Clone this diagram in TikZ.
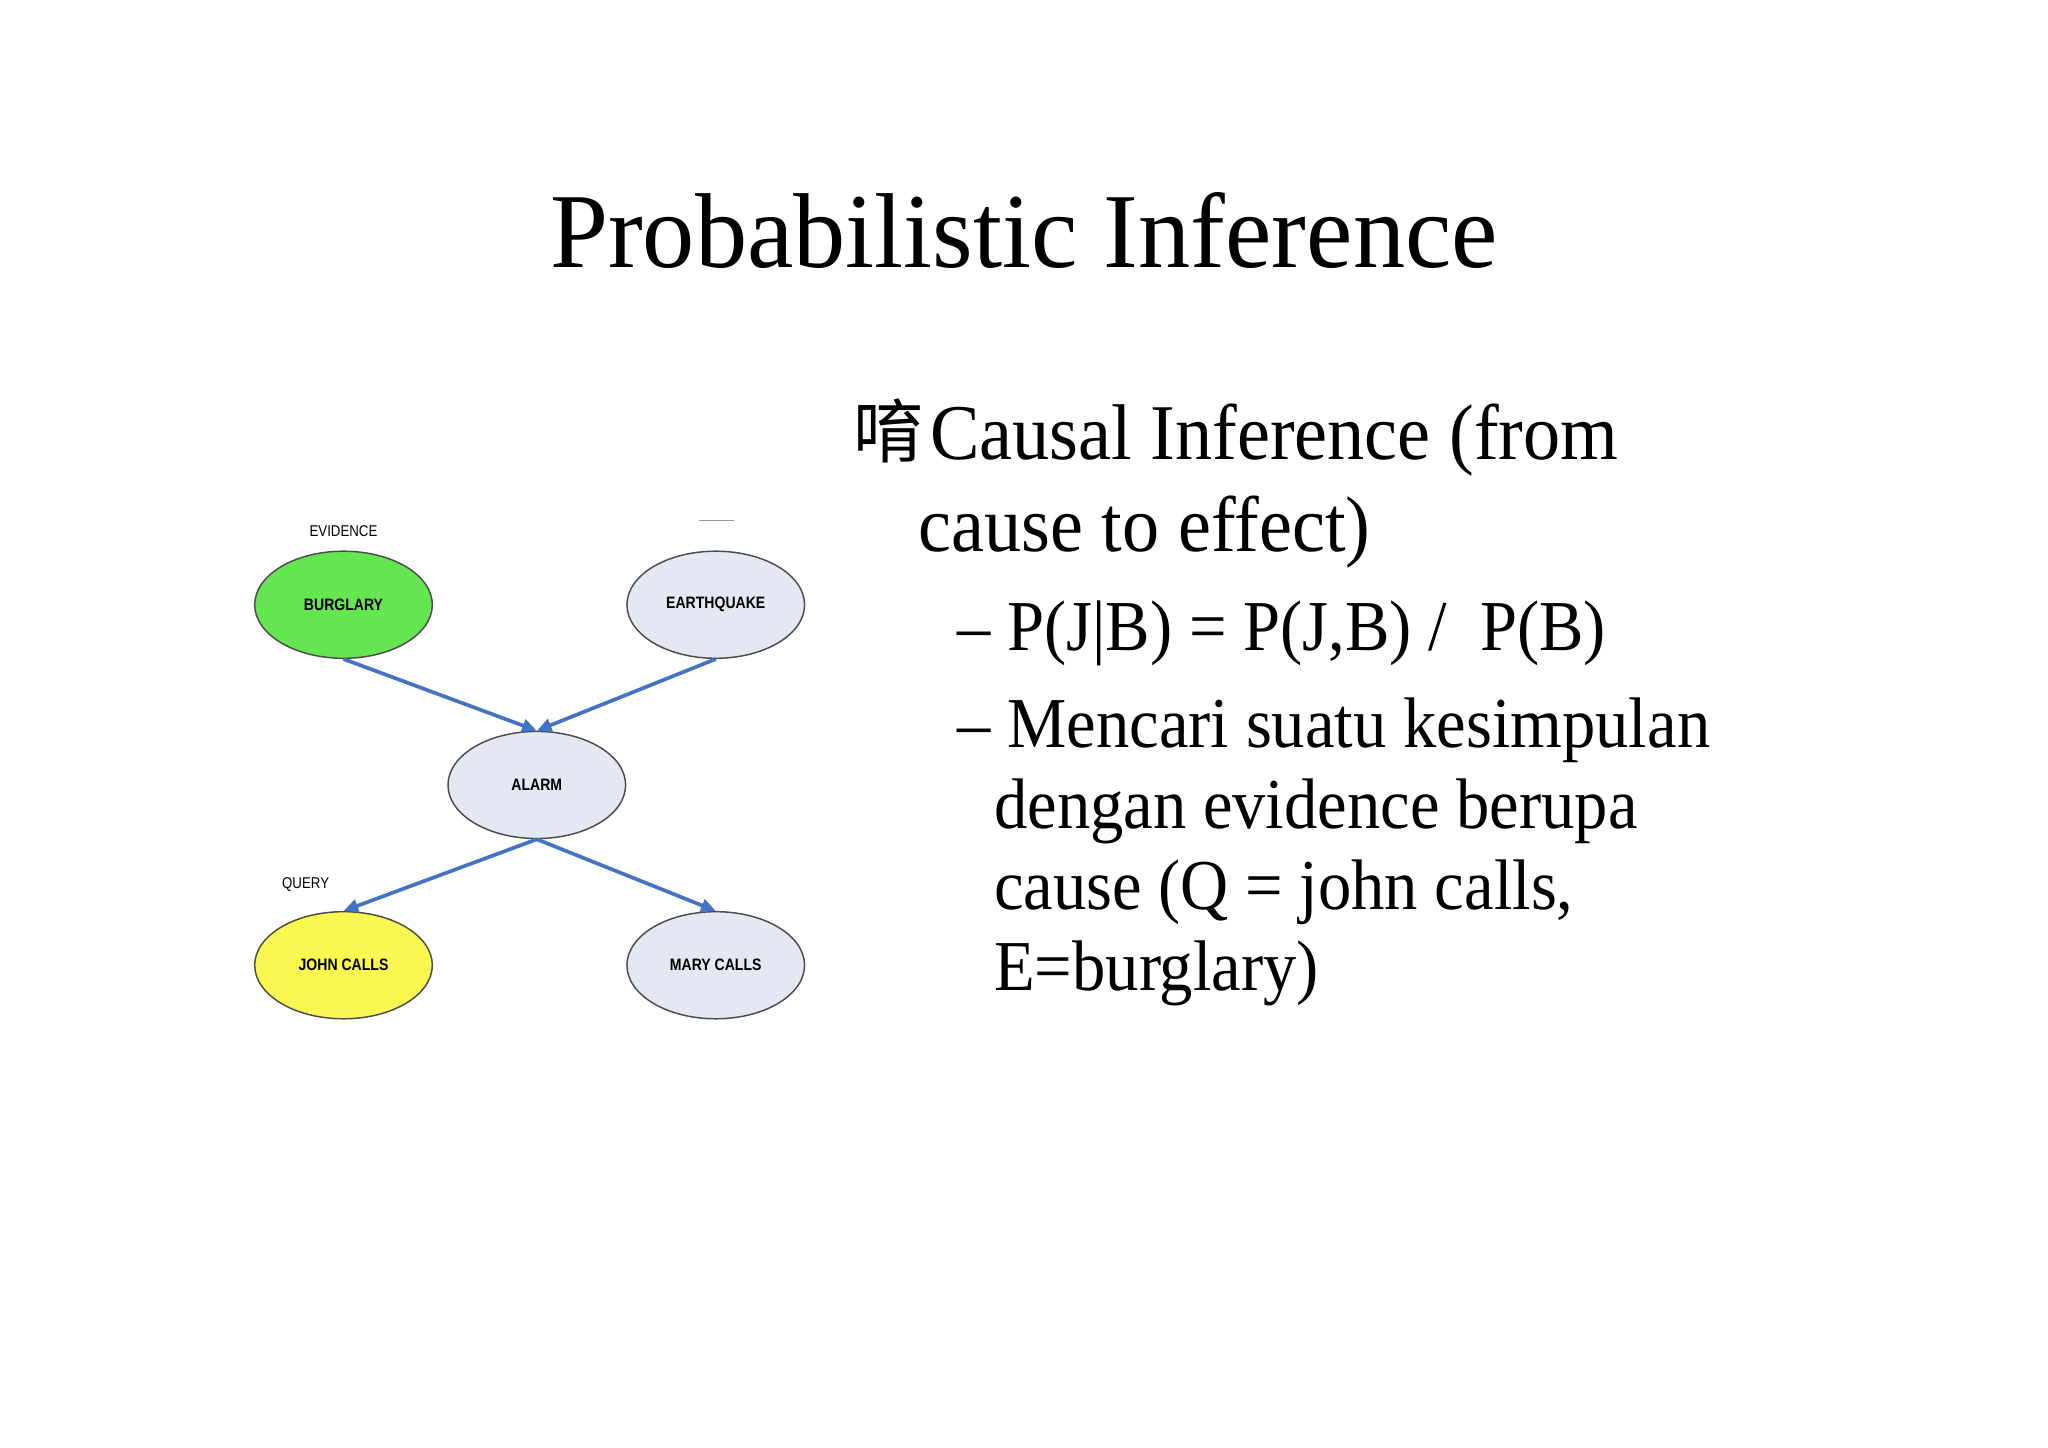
\documentclass[tikz,border=0pt]{standalone}
\usepackage{fontspec}
\setmainfont{Liberation Serif}
\setsansfont{Liberation Sans}
\newfontfamily\cjk{Noto Sans CJK SC}
\usetikzlibrary{arrows.meta,shapes.geometric}
\begin{document}
\begin{tikzpicture}[x=0.05cm,y=-0.05cm,
  bn/.style={ellipse,draw=black!70,line width=1.6pt,minimum width=136*0.05cm,minimum height=82*0.05cm,font=\sffamily\bfseries\fontsize{18}{18}\selectfont,inner sep=0pt},
  arr/.style={draw={rgb,255:red,68;green,114;blue,196},line width=4pt,-{Triangle[length=16pt,width=14pt]}},
  body/.style={anchor=base west,inner sep=0pt,font=\fontsize{86}{86}\selectfont},
  sub/.style={anchor=base west,inner sep=0pt,font=\fontsize{78}{78}\selectfont}]
\fill[white] (0,0) rectangle (1568,1108);
\useasboundingbox (0,0) rectangle (1568,1108);
\node[anchor=base,inner sep=0pt,font=\fontsize{116}{116}\selectfont] (title) at (784,205) {\scalebox{0.98}[1]{Probabilistic Inference}};
\node[anchor=base west,inner sep=0pt,font=\cjk\fontsize{76}{76}\selectfont] (bul) at (653,350) {唷};
\node[body] (l1) at (712,352) {\scalebox{0.94}[1]{Causal Inference (from}};
\node[body] (l2) at (703,422) {\scalebox{0.94}[1]{cause to effect)}};
\node[sub] (l3) at (733,498) {\scalebox{0.93}[1]{– P(J|B) = P(J,B) /\ \ P(B)}};
\node[sub] (l4) at (733,572) {\scalebox{0.93}[1]{– Mencari suatu kesimpulan}};
\node[sub] (l5) at (761,634) {\scalebox{0.93}[1]{dengan evidence berupa}};
\node[sub] (l6) at (761,696) {\scalebox{0.93}[1]{cause (Q = john calls,}};
\node[sub] (l7) at (761,758) {\scalebox{0.93}[1]{E=burglary)}};
\node[bn,fill={rgb,255:red,100;green,230;blue,80}] (b) at (263,463) {\scalebox{0.85}[1]{BURGLARY}};
\node[bn,fill={rgb,255:red,228;green,232;blue,242}] (e) at (548,463) {\scalebox{0.85}[1]{EARTHQUAKE}};
\node[bn,fill={rgb,255:red,228;green,232;blue,242}] (a) at (411,601) {\scalebox{0.85}[1]{ALARM}};
\node[bn,fill={rgb,255:red,250;green,248;blue,80}] (j) at (263,739) {\scalebox{0.85}[1]{JOHN CALLS}};
\node[bn,fill={rgb,255:red,228;green,232;blue,242}] (m) at (548,739) {\scalebox{0.85}[1]{MARY CALLS}};
\node[font=\sffamily\fontsize{17}{17}\selectfont] (ev) at (263,407) {\scalebox{0.85}[1]{EVIDENCE}};
\node[font=\sffamily\fontsize{17}{17}\selectfont] (q) at (234,677) {\scalebox{0.85}[1]{QUERY}};
\coordinate (s1) at (535,398); \coordinate (s2) at (562,398);
\draw[black!40,line width=0.6pt] (s1) -- (s2);
\draw[arr] (b.south) -- (a.north);
\draw[arr] (e.south) -- (a.north);
\draw[arr] (a.south) -- (j.north);
\draw[arr] (a.south) -- (m.north);
\end{tikzpicture}
\end{document}
